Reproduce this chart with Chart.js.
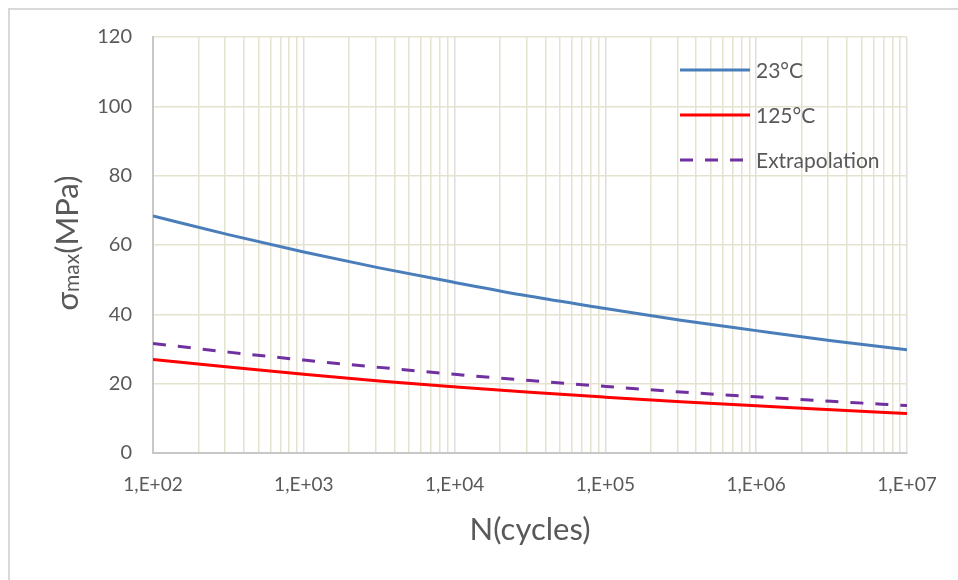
<!DOCTYPE html>
<html>
<head>
<meta charset="utf-8">
<script src="https://cdn.jsdelivr.net/npm/chart.js@4"></script>
<style>
  html, body { margin: 0; padding: 0; background: #fff; overflow: hidden; }
  #wrap { position: relative; width: 958px; height: 580px; }
  #frame { position: absolute; left: 8px; top: 8px; width: 980px; height: 600px; border: 2px solid #d9d9d9; box-sizing: border-box; }
  #c { position: absolute; left: 0; top: 0; }
</style>
</head>
<body>
<div id="wrap">
  <div id="frame"></div>
  <canvas id="c" width="958" height="580"></canvas>
</div>
<script>
// Datos
const cycles = [1e2, 3.16e2, 1e3, 3.16e3, 1e4, 3.16e4, 1e5, 3.16e5, 1e6, 3.16e6, 1e7];
const sigma23 = [68.4, 63.0, 58.0, 53.4, 49.2, 45.2, 41.7, 38.3, 35.3, 32.4, 29.8];
const sigma125 = [27.0, 24.8, 22.7, 20.8, 19.1, 17.5, 16.1, 14.8, 13.6, 12.5, 11.4];
const sigmaExtra = [31.6, 29.1, 26.8, 24.7, 22.7, 20.9, 19.2, 17.6, 16.2, 14.9, 13.7];
const seriesNames = ['23°C', '125°C', 'Extrapolation'];
const decades = [1e2, 1e3, 1e4, 1e5, 1e6, 1e7];
const xTickLabels = ['1,E+02', '1,E+03', '1,E+04', '1,E+05', '1,E+06', '1,E+07'];

const fuente = 'Lato, "Liberation Sans", sans-serif';
const gris = '#595959';

function puntos(ys) {
    return cycles.map((x, i) => ({ x: x, y: ys[i] }));
}

function esDecada(v) {
    return decades.some(d => Math.abs(v - d) / d < 1e-6);
}

// leyenda dentro del area del grafico + titulos de ejes
const extras = {
    id: 'extras',
    afterDraw(chart) {
        const ctx = chart.ctx;
        const area = chart.chartArea;
        ctx.save();
        // leyenda
        chart.data.datasets.forEach((ds, i) => {
            const y = 70 + i * 45;
            ctx.beginPath();
            ctx.strokeStyle = ds.borderColor;
            ctx.lineWidth = 3;
            ctx.setLineDash(ds.borderDash || []);
            ctx.moveTo(680, y);
            ctx.lineTo(750, y);
            ctx.stroke();
            ctx.setLineDash([]);
            ctx.fillStyle = gris;
            ctx.font = '21px ' + fuente;
            ctx.textBaseline = 'middle';
            ctx.textAlign = 'left';
            ctx.fillText(ds.label, 756, y + 1);
        });
        // titulo eje x
        ctx.font = '31px ' + fuente;
        ctx.fillStyle = gris;
        ctx.textAlign = 'center';
        ctx.textBaseline = 'middle';
        ctx.fillText('N(cycles)', (area.left + area.right) / 2, 530);
        // titulo eje y con subindice
        ctx.translate(68, 243);
        ctx.rotate(-Math.PI / 2);
        const big = '31px ' + fuente;
        const small = '21px ' + fuente;
        ctx.font = big;
        const w1 = ctx.measureText('σ').width;
        const w3 = ctx.measureText('(MPa)').width;
        ctx.font = small;
        const w2 = ctx.measureText('max').width;
        let x0 = -(w1 + w2 + w3) / 2;
        ctx.textAlign = 'left';
        ctx.font = big;
        ctx.fillText('σ', x0, 0);
        ctx.font = small;
        ctx.fillText('max', x0 + w1, 4);
        ctx.font = big;
        ctx.fillText('(MPa)', x0 + w1 + w2, 0);
        ctx.restore();
    }
};

new Chart(document.getElementById('c'), {
    type: 'line',
    data: {
        datasets: [{
            label: seriesNames[0],
            data: puntos(sigma23),
            borderColor: '#4a7ebb',
            borderWidth: 3,
            pointRadius: 0,
            cubicInterpolationMode: 'monotone'
        }, {
            label: seriesNames[1],
            data: puntos(sigma125),
            borderColor: '#ff0000',
            borderWidth: 3,
            pointRadius: 0,
            cubicInterpolationMode: 'monotone'
        }, {
            label: seriesNames[2],
            data: puntos(sigmaExtra),
            borderColor: '#7030a0',
            borderWidth: 3,
            borderDash: [13, 12],
            pointRadius: 0,
            cubicInterpolationMode: 'monotone'
        }]
    },
    options: {
        responsive: false,
        animation: false,
        layout: { padding: { left: 0, top: 37, right: 51, bottom: 0 } },
        plugins: {
            legend: { display: false },
            tooltip: { enabled: false }
        },
        scales: {
            x: {
                type: 'logarithmic',
                min: 1e2,
                max: 1e7,
                afterBuildTicks(scale) {
                    const t = [];
                    decades.forEach((d, i) => {
                        t.push({ value: d });
                        if (i < decades.length - 1) {
                            for (let m = 2; m <= 9; m++) t.push({ value: d * m });
                        }
                    });
                    scale.ticks = t;
                },
                afterFit(scale) { scale.height = 127; },
                ticks: {
                    autoSkip: false,
                    maxRotation: 0,
                    padding: 20,
                    color: gris,
                    font: { family: fuente, size: 19 },
                    callback(v) {
                        const i = decades.findIndex(d => Math.abs(v - d) / d < 1e-6);
                        return i >= 0 ? xTickLabels[i] : '';
                    }
                },
                grid: {
                    drawTicks: false,
                    color: ctx => (ctx.tick && esDecada(ctx.tick.value)) ? '#dedede' : '#e6e2d0',
                    lineWidth: 1.5
                },
                border: { color: '#c8c8c8', width: 2 }
            },
            y: {
                min: 0,
                max: 120,
                ticks: {
                    stepSize: 20,
                    padding: 21,
                    color: gris,
                    font: { family: fuente, size: 20 }
                },
                afterFit(scale) { scale.width = 153; },
                grid: {
                    drawTicks: false,
                    color: '#e6e2d0',
                    lineWidth: 1.5
                },
                border: { color: '#c8c8c8', width: 2 }
            }
        }
    },
    plugins: [extras]
});
</script>
</body>
</html>
